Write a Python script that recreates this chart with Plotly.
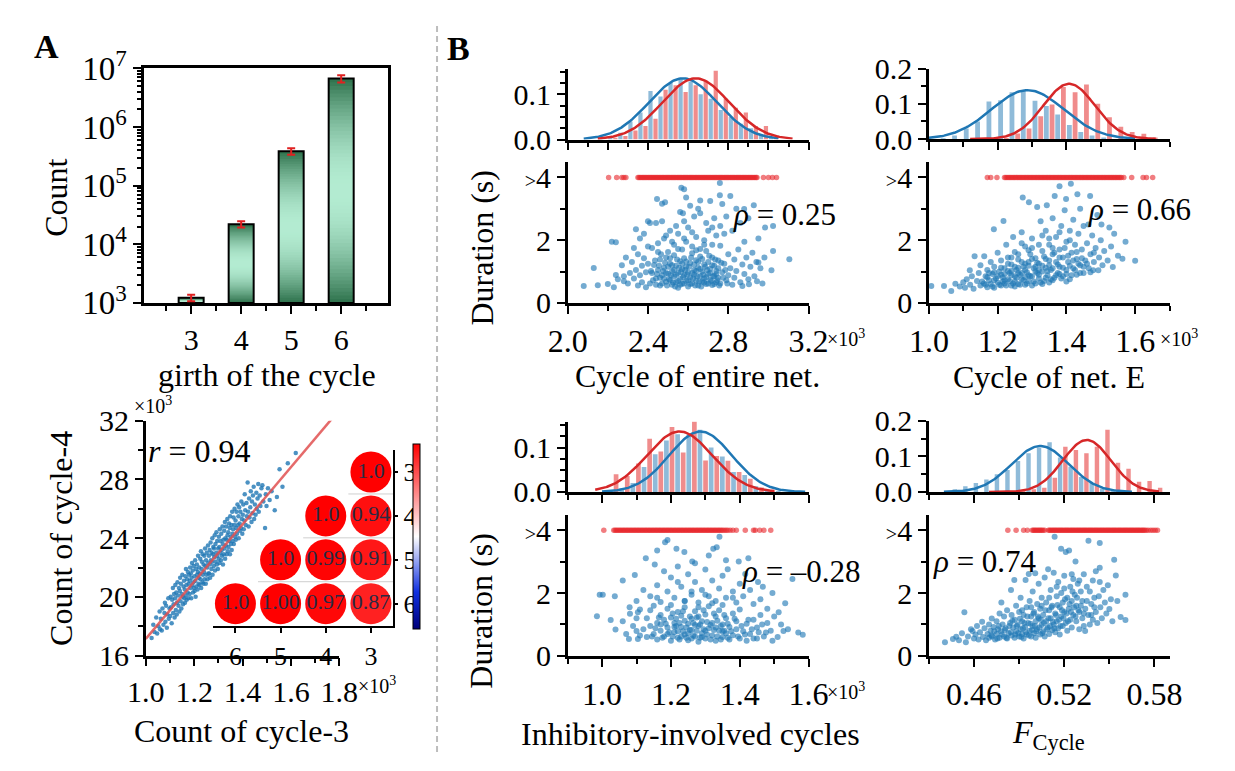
import numpy as np
import plotly.graph_objects as go

W, H = 1235, 771
FONT = "Liberation Serif"

# ======================= DATA =======================
# Panel A (top): number of cycles by girth
girth = [3, 4, 5, 6]
cycle_count = [1.22e3, 2.2e4, 3.85e5, 6.7e6]
cycle_err = [1.5e2, 2.6e3, 5.0e4, 9.5e5]

# Panel A (bottom): count of cycle-3 vs count of cycle-4 (both in units of 10^3)
a_pts = [
    (1.024, 17.2), (1.031, 18.1), (1.036, 17.6),
    (1.043, 18.6), (1.047, 17.5), (1.052, 18.0), (1.057, 19.0), (1.059, 17.8),
    (1.062, 18.5), (1.066, 17.7), (1.069, 19.2), (1.073, 18.1), (1.077, 18.9), (1.079, 19.6),
    (1.081, 18.3), (1.084, 19.4), (1.087, 17.9), (1.089, 18.8), (1.093, 19.9), (1.095, 18.5), (1.098, 19.2),
    (1.101, 18.7), (1.103, 20.0), (1.104, 19.3), (1.107, 18.2), (1.109, 19.8), (1.112, 20.6), (1.113, 18.9),
    (1.115, 19.5), (1.117, 20.2), (1.119, 18.6),
    (1.121, 19.9), (1.122, 20.8), (1.124, 19.1), (1.126, 20.3), (1.128, 18.8), (1.129, 19.6), (1.131, 21.0),
    (1.133, 20.1), (1.135, 19.4), (1.137, 20.6), (1.139, 19.0),
    (1.141, 20.4), (1.142, 21.3), (1.144, 19.7), (1.145, 20.9), (1.147, 19.2), (1.149, 20.2), (1.151, 21.5),
    (1.153, 20.0), (1.154, 19.5), (1.156, 20.7), (1.158, 21.1), (1.159, 19.9),
    (1.161, 20.5), (1.162, 19.6), (1.164, 21.4), (1.165, 20.1), (1.166, 21.9), (1.168, 20.8), (1.169, 19.8),
    (1.171, 21.2), (1.173, 20.3), (1.174, 21.7), (1.176, 19.9), (1.177, 20.9), (1.179, 21.5),
    (1.181, 20.2), (1.182, 21.1), (1.183, 22.0), (1.185, 20.6), (1.186, 21.6), (1.188, 19.9), (1.189, 21.3),
    (1.191, 22.3), (1.192, 20.8), (1.194, 21.8), (1.195, 20.3), (1.197, 21.0), (1.198, 22.1), (1.199, 20.6),
    (1.201, 21.4), (1.202, 20.4), (1.204, 22.5), (1.205, 21.1), (1.206, 20.0), (1.208, 21.9), (1.209, 20.7),
    (1.211, 22.2), (1.212, 21.5), (1.214, 20.5), (1.215, 21.7), (1.216, 22.8), (1.218, 20.9), (1.219, 21.3),
    (1.221, 22.0), (1.222, 20.8), (1.224, 21.6), (1.225, 22.6), (1.226, 21.2), (1.228, 23.1), (1.229, 20.6),
    (1.231, 21.9), (1.232, 22.4), (1.234, 21.0), (1.235, 22.9), (1.236, 21.5), (1.238, 20.9), (1.239, 22.2),
    (1.241, 21.7), (1.242, 22.8), (1.243, 21.2), (1.245, 23.3), (1.246, 22.1), (1.248, 20.9), (1.249, 22.5),
    (1.251, 21.5), (1.252, 23.0), (1.254, 22.0), (1.255, 21.2), (1.257, 23.5), (1.258, 22.3), (1.259, 21.6),
    (1.261, 22.8), (1.262, 21.6), (1.264, 23.2), (1.265, 22.2), (1.266, 21.3), (1.268, 23.7), (1.269, 22.5),
    (1.271, 21.9), (1.272, 23.0), (1.274, 22.4), (1.275, 24.0), (1.276, 21.5), (1.278, 22.9), (1.279, 23.4),
    (1.281, 22.1), (1.282, 23.3), (1.283, 22.7), (1.285, 24.2), (1.286, 21.8), (1.288, 23.6), (1.289, 22.4),
    (1.291, 23.0), (1.292, 24.4), (1.294, 22.2), (1.295, 23.8), (1.296, 22.8), (1.298, 21.9), (1.299, 23.3),
    (1.301, 22.6), (1.302, 24.1), (1.304, 23.4), (1.305, 22.3), (1.306, 24.6), (1.308, 23.0), (1.309, 23.8),
    (1.311, 22.5), (1.312, 24.3), (1.314, 23.2), (1.315, 22.8), (1.317, 24.8), (1.318, 23.6), (1.319, 22.2),
    (1.321, 23.9), (1.322, 22.9), (1.324, 24.5), (1.325, 23.3), (1.327, 25.1), (1.328, 22.6), (1.329, 24.0),
    (1.331, 23.5), (1.332, 24.8), (1.334, 22.9), (1.335, 23.9), (1.337, 25.3), (1.338, 24.2), (1.339, 23.1),
    (1.341, 24.4), (1.342, 23.4), (1.344, 25.0), (1.345, 23.8), (1.347, 24.7), (1.348, 22.9), (1.349, 25.5),
    (1.351, 24.1), (1.352, 23.6), (1.354, 24.9), (1.355, 23.2), (1.357, 25.8), (1.358, 24.3), (1.359, 23.8),
    (1.361, 24.6), (1.363, 25.4), (1.364, 23.6), (1.366, 24.9), (1.367, 26.0), (1.369, 24.1), (1.371, 25.2),
    (1.372, 23.9), (1.374, 24.7), (1.375, 25.8), (1.377, 24.3), (1.379, 26.3),
    (1.381, 24.9), (1.383, 25.5), (1.384, 24.0), (1.386, 26.1), (1.388, 25.0), (1.389, 24.5), (1.391, 25.8),
    (1.393, 24.7), (1.395, 26.5), (1.397, 25.3), (1.399, 24.3),
    (1.401, 25.6), (1.403, 26.3), (1.405, 24.6), (1.407, 25.2), (1.409, 27.0), (1.411, 25.9), (1.413, 24.9),
    (1.416, 26.4), (1.418, 25.5),
    (1.421, 27.8), (1.423, 25.8), (1.425, 24.8), (1.427, 26.7), (1.429, 25.4), (1.432, 26.1), (1.434, 27.2),
    (1.437, 25.1), (1.439, 26.5),
    (1.441, 25.7), (1.443, 26.9), (1.446, 27.5), (1.448, 25.3), (1.451, 26.3), (1.454, 25.6), (1.457, 27.1),
    (1.459, 26.0), (1.462, 26.7), (1.465, 27.7), (1.467, 25.8), (1.471, 26.9), (1.474, 26.2), (1.478, 27.4),
    (1.482, 27.6), (1.486, 26.5), (1.493, 24.7), (1.496, 27.0), (1.499, 26.2),
    (1.505, 27.4), (1.512, 26.6), (1.52, 27.2), (1.533, 25.9), (1.542, 26.8), (1.553, 28.7), (1.565, 27.5),
    (1.587, 29.1), (1.62, 29.8),
]
a_fit_x = [1.0, 1.767]
a_fit_y_at_1 = 17.14
a_fit_slope = 19.5
a_r = "0.94"

# Inset: correlation among cycle counts of different girth
corr_x_labels = ["6", "5", "4", "3"]
corr_y_labels = ["3", "4", "5", "6"]
corr_row = [3, 4, 4, 5, 5, 5, 6, 6, 6, 6]
corr_col = [3, 4, 3, 5, 4, 3, 6, 5, 4, 3]
corr_val = [1.0, 1.0, 0.94, 1.0, 0.99, 0.91, 1.0, 1.00, 0.97, 0.87]
corr_txt = ["1.0", "1.0", "0.94", "1.0", "0.99", "0.91", "1.0", "1.00", "0.97", "0.87"]

# Panel B: duration vs cycle measures. Durations > 4 s are drawn on the ">4" row.
dur_cap = 4

# --- B1: cycle of entire net (x in 10^3) ---
b1_bins = [2.175, 2.225, 2.275, 2.325, 2.375, 2.425, 2.475, 2.525, 2.575, 2.625, 2.675, 2.725, 2.775,
           2.825, 2.875, 2.925, 2.975, 3.025]
b1_hist_blue = [0.003, 0.006, 0.015, 0.040, 0.060, 0.107, 0.095, 0.125, 0.133, 0.128, 0.100, 0.090, 0.065,
                0.050, 0.035, 0.025, 0.010, 0.004]
b1_hist_red = [0.000, 0.004, 0.008, 0.020, 0.030, 0.046, 0.110, 0.120, 0.105, 0.120, 0.130, 0.152, 0.090,
               0.070, 0.060, 0.030, 0.030, 0.005]
b1_bin_w = 0.05
b1_fit_blue = dict(mu=2.574, sd=0.170, peak=0.135, lo=2.08, hi=3.05)
b1_fit_red = dict(mu=2.638, sd=0.167, peak=0.135, lo=2.15, hi=3.12)
b1_blue = [
    (2.08, 0.54), (2.13, 1.11), (2.15, 0.56), (2.20, 0.60), (2.22, 1.95), (2.24, 1.93), (2.23, 0.50),
    (2.24, 0.89), (2.25, 0.75), (2.27, 1.20), (2.28, 0.85), (2.28, 0.69), (2.29, 1.45),
    (2.30, 0.62), (2.31, 0.95), (2.32, 1.30), (2.33, 0.78), (2.33, 1.75), (2.34, 1.05), (2.34, 2.35),
    (2.35, 0.55), (2.35, 1.55), (2.36, 0.88), (2.36, 2.05), (2.37, 1.18), (2.37, 0.66), (2.38, 1.42),
    (2.38, 2.20), (2.39, 0.98), (2.39, 0.50), (2.40, 1.25), (2.40, 1.80), (2.40, 2.60), (2.41, 2.55),
    (2.41, 0.62), (2.42, 0.95), (2.42, 1.75), (2.43, 1.21), (2.44, 0.78), (2.44, 2.55), (2.445, 3.31),
    (2.45, 1.05), (2.45, 1.90), (2.46, 0.55), (2.46, 1.38), (2.47, 0.88), (2.47, 2.60), (2.47, 3.16),
    (2.48, 1.12), (2.48, 2.05), (2.485, 3.21), (2.49, 0.67), (2.49, 1.45), (2.50, 0.93), (2.50, 1.62),
    (2.51, 0.72), (2.51, 1.25), (2.51, 2.30), (2.52, 0.58), (2.52, 1.02), (2.53, 0.84), (2.53, 1.52),
    (2.53, 1.85), (2.54, 0.66), (2.54, 1.18), (2.54, 2.45), (2.55, 0.95), (2.55, 0.48), (2.55, 2.20),
    (2.56, 1.33), (2.56, 0.76), (2.56, 2.90), (2.566, 3.67), (2.57, 1.07), (2.57, 0.61), (2.57, 1.70),
    (2.574, 2.86), (2.58, 0.88), (2.58, 1.42), (2.58, 2.60), (2.58, 3.62), (2.59, 0.70), (2.59, 1.15),
    (2.59, 1.95), (2.59, 3.36), (2.60, 0.52), (2.60, 0.98), (2.60, 2.40), (2.61, 1.27), (2.61, 0.80),
    (2.61, 3.10), (2.62, 0.62), (2.62, 1.58), (2.62, 1.80), (2.63, 1.05), (2.63, 0.90), (2.63, 2.75),
    (2.64, 0.71), (2.64, 1.36), (2.64, 2.10), (2.65, 0.55), (2.65, 1.12), (2.65, 3.00), (2.66, 0.85),
    (2.66, 1.48), (2.66, 1.72), (2.66, 2.86), (2.66, 3.26), (2.67, 0.68), (2.67, 1.00), (2.68, 1.22),
    (2.68, 0.78), (2.68, 2.00), (2.69, 0.60), (2.69, 1.65), (2.69, 2.55), (2.70, 0.92), (2.70, 1.30),
    (2.70, 2.30), (2.71, 0.74), (2.71, 1.08), (2.71, 3.25), (2.72, 0.57), (2.72, 1.45), (2.72, 1.85),
    (2.73, 0.86), (2.73, 1.18), (2.73, 2.70), (2.74, 0.66), (2.74, 1.02), (2.74, 2.15), (2.75, 1.35),
    (2.75, 0.80), (2.758, 3.82), (2.758, 3.43), (2.76, 0.62), (2.76, 2.45), (2.77, 0.98), (2.77, 3.15),
    (2.78, 1.25), (2.78, 2.20), (2.79, 0.72), (2.79, 2.75), (2.80, 1.55), (2.80, 0.88), (2.81, 1.10),
    (2.81, 3.41), (2.82, 0.58), (2.82, 2.30), (2.83, 1.38), (2.83, 0.80), (2.84, 1.02), (2.84, 3.00),
    (2.85, 1.70), (2.86, 0.66), (2.86, 2.55), (2.87, 1.22), (2.87, 0.54), (2.88, 0.92), (2.88, 1.95),
    (2.879, 2.99), (2.89, 1.45), (2.90, 0.75), (2.90, 2.70), (2.903, 0.59), (2.91, 1.15), (2.92, 1.60),
    (2.927, 3.11), (2.93, 0.85), (2.94, 1.30), (2.943, 0.69), (2.95, 2.05), (2.95, 1.29), (2.96, 1.10),
    (2.97, 0.62), (2.98, 1.45), (2.983, 2.40), (3.015, 1.04), (3.023, 1.65), (3.023, 2.45), (3.104, 1.39),
    (2.415, 1.02), (2.425, 0.72), (2.435, 1.35), (2.44, 0.58), (2.445, 0.92), (2.455, 1.18), (2.46, 0.80),
    (2.465, 1.55), (2.47, 0.62), (2.475, 1.02), (2.48, 0.78), (2.485, 1.28), (2.49, 0.95), (2.495, 0.55),
    (2.50, 1.15), (2.505, 0.75), (2.51, 1.42), (2.515, 0.88), (2.52, 1.20), (2.525, 0.65), (2.53, 1.05),
    (2.535, 0.52), (2.54, 0.90), (2.545, 1.38), (2.55, 0.70), (2.555, 1.12), (2.56, 0.58), (2.565, 0.98),
    (2.57, 1.25), (2.575, 0.82), (2.58, 0.62), (2.585, 1.05), (2.59, 1.32), (2.595, 0.90), (2.60, 0.72),
    (2.605, 1.15), (2.61, 0.60), (2.615, 1.45), (2.62, 0.95), (2.625, 0.78), (2.63, 1.22), (2.635, 0.55),
    (2.64, 1.02), (2.645, 0.85), (2.65, 1.30), (2.655, 0.68), (2.66, 1.08), (2.665, 0.52), (2.67, 1.40),
    (2.675, 0.90), (2.68, 0.65), (2.685, 1.15), (2.69, 0.82), (2.695, 1.05), (2.70, 0.62), (2.705, 1.50),
    (2.71, 0.95), (2.715, 0.70), (2.72, 1.20), (2.725, 0.85), (2.73, 0.60), (2.735, 1.38), (2.74, 0.92),
    (2.745, 0.72), (2.75, 1.10), (2.755, 0.55), (2.765, 1.28), (2.775, 0.80), (2.785, 1.05), (2.795, 0.62),
    (2.62, 2.25), (2.55, 1.72), (2.68, 1.85), (2.52, 1.95), (2.72, 2.40), (2.58, 2.05), (2.45, 1.62),
    (2.64, 1.68), (2.76, 1.82), (2.49, 2.15),
]
b1_red_x = [2.204, 2.244, 2.27, 2.28, 2.29, 2.35, 2.356, 2.362, 2.368, 2.374, 2.38, 2.386, 2.392, 2.398,
            2.404, 2.41, 2.416, 2.422, 2.428, 2.434, 2.44, 2.446, 2.452, 2.458, 2.464, 2.47, 2.476, 2.482,
            2.488, 2.494, 2.50, 2.506, 2.512, 2.518, 2.524, 2.53, 2.536, 2.542, 2.548, 2.554, 2.56, 2.566,
            2.572, 2.578, 2.584, 2.59, 2.596, 2.602, 2.608, 2.614, 2.62, 2.626, 2.632, 2.638, 2.644, 2.65,
            2.656, 2.662, 2.668, 2.674, 2.68, 2.686, 2.692, 2.698, 2.704, 2.71, 2.716, 2.722, 2.728, 2.734,
            2.74, 2.746, 2.752, 2.758, 2.764, 2.77, 2.776, 2.782, 2.788, 2.794, 2.80, 2.806, 2.812, 2.818,
            2.824, 2.83, 2.836, 2.842, 2.848, 2.854, 2.86, 2.866, 2.872, 2.878, 2.884, 2.89, 2.896, 2.902,
            2.908, 2.914, 2.92, 2.926, 2.932, 2.938, 2.943, 2.975, 3.00, 3.02, 3.04]
b1_rho = "0.25"

# --- B2: cycle of net. E (x in 10^3) ---
b2_bins = [1.050, 1.083, 1.117, 1.150, 1.183, 1.217, 1.250, 1.283, 1.317, 1.350, 1.383, 1.417, 1.450,
           1.483, 1.517, 1.550, 1.583, 1.617, 1.650]
b2_hist_blue = [0.002, 0.010, 0.030, 0.050, 0.107, 0.110, 0.133, 0.138, 0.109, 0.094, 0.070, 0.040, 0.020,
                0.010, 0.004, 0.000, 0.000, 0.000, 0.000]
b2_hist_red = [0.000, 0.000, 0.000, 0.000, 0.000, 0.003, 0.016, 0.030, 0.065, 0.098, 0.148, 0.133, 0.155,
               0.100, 0.062, 0.035, 0.020, 0.015, 0.004]
b2_bin_w = 0.0333
b2_fit_blue = dict(mu=1.287, sd=0.105, peak=0.139, lo=1.0, hi=1.60)
b2_fit_red = dict(mu=1.408, sd=0.075, peak=0.157, lo=1.12, hi=1.66)
b2_blue = [
    (1.007, 0.54), (1.044, 0.54), (1.065, 0.38), (1.077, 0.61), (1.09, 0.52), (1.10, 0.66), (1.105, 0.48),
    (1.11, 0.75), (1.119, 1.04), (1.12, 0.58), (1.125, 0.85), (1.13, 0.45), (1.133, 1.49), (1.14, 0.70),
    (1.145, 0.95), (1.15, 0.55), (1.15, 1.20), (1.16, 0.62), (1.161, 1.49), (1.165, 0.85), (1.17, 1.05),
    (1.17, 0.50), (1.17, 0.82), (1.175, 0.72), (1.18, 1.30), (1.18, 0.60), (1.185, 0.92), (1.189, 2.35),
    (1.19, 0.48), (1.19, 1.15), (1.19, 0.98), (1.195, 0.78), (1.20, 1.60), (1.20, 0.65), (1.205, 1.00),
    (1.21, 0.55), (1.21, 1.35), (1.21, 0.90), (1.215, 0.82), (1.217, 2.61), (1.22, 1.10), (1.22, 0.62),
    (1.22, 0.72), (1.225, 1.85), (1.23, 0.75), (1.23, 1.45), (1.23, 1.02), (1.235, 0.95), (1.24, 0.55),
    (1.24, 1.22), (1.24, 0.88), (1.245, 2.10), (1.25, 0.85), (1.25, 1.62), (1.25, 0.68), (1.25, 0.52),
    (1.255, 1.05), (1.26, 0.60), (1.26, 1.38), (1.26, 1.12), (1.265, 0.90), (1.27, 2.25), (1.27, 0.75),
    (1.27, 0.95), (1.273, 3.36), (1.275, 1.15), (1.28, 0.58), (1.28, 1.80), (1.28, 1.25), (1.28, 0.82),
    (1.285, 0.98), (1.29, 1.30), (1.29, 0.70), (1.29, 0.88), (1.291, 3.21), (1.295, 1.55), (1.30, 0.85),
    (1.30, 2.05), (1.30, 0.55), (1.305, 1.10), (1.31, 0.62), (1.31, 1.42), (1.31, 1.15), (1.315, 3.06),
    (1.315, 0.95), (1.32, 1.25), (1.32, 0.78), (1.32, 1.05), (1.325, 2.60), (1.33, 1.65), (1.33, 1.00),
    (1.33, 0.60), (1.335, 0.70), (1.34, 1.40), (1.34, 2.30), (1.34, 1.12), (1.343, 3.11), (1.345, 0.88),
    (1.35, 1.20), (1.35, 1.85), (1.35, 0.65), (1.355, 1.05), (1.36, 1.55), (1.36, 2.70), (1.36, 0.72),
    (1.365, 0.80), (1.366, 3.41), (1.37, 1.30), (1.37, 2.10), (1.375, 0.95), (1.38, 3.72), (1.38, 1.70),
    (1.38, 1.15), (1.38, 0.92), (1.385, 2.45), (1.39, 0.85), (1.39, 1.45), (1.395, 2.95), (1.399, 3.31),
    (1.40, 1.05), (1.40, 1.95), (1.40, 0.68), (1.405, 1.30), (1.41, 0.75), (1.41, 2.30), (1.413, 3.80),
    (1.415, 1.60), (1.42, 1.10), (1.42, 2.65), (1.425, 1.85), (1.43, 0.90), (1.43, 1.40), (1.432, 3.46),
    (1.435, 2.20), (1.44, 1.20), (1.44, 3.00), (1.445, 1.70), (1.45, 0.95), (1.45, 2.45), (1.455, 1.35),
    (1.46, 1.90), (1.464, 2.50), (1.465, 1.10), (1.469, 3.41), (1.47, 1.55), (1.475, 2.15), (1.478, 1.04),
    (1.48, 1.30), (1.485, 1.75), (1.49, 2.80), (1.493, 1.04), (1.495, 1.45), (1.50, 2.00), (1.502, 2.50),
    (1.505, 1.20), (1.51, 1.65), (1.52, 1.35), (1.525, 2.40), (1.53, 1.80), (1.535, 1.14), (1.539, 2.20),
    (1.55, 1.50), (1.563, 1.41), (1.572, 1.95), (1.60, 1.34),
    (1.155, 0.68), (1.165, 0.58), (1.175, 0.95), (1.185, 0.52), (1.19, 0.72), (1.20, 0.85), (1.205, 0.58),
    (1.21, 1.12), (1.215, 0.68), (1.22, 0.92), (1.225, 0.55), (1.23, 1.25), (1.235, 0.70), (1.24, 1.02),
    (1.245, 0.62), (1.25, 1.15), (1.255, 0.80), (1.26, 0.95), (1.265, 0.58), (1.27, 1.30), (1.275, 0.72),
    (1.28, 1.05), (1.285, 0.62), (1.29, 1.18), (1.295, 0.85), (1.30, 1.40), (1.305, 0.68), (1.31, 1.00),
    (1.315, 1.28), (1.32, 0.90), (1.325, 0.65), (1.33, 1.18), (1.335, 1.48), (1.34, 0.80), (1.345, 1.02),
    (1.35, 1.35), (1.355, 0.75), (1.36, 1.10), (1.365, 1.60), (1.37, 0.88), (1.375, 1.22), (1.38, 1.45),
    (1.385, 0.78), (1.39, 1.12), (1.395, 1.75), (1.40, 0.92), (1.405, 1.50), (1.41, 1.18), (1.415, 0.88),
    (1.42, 1.35), (1.425, 1.05), (1.43, 1.62), (1.435, 1.25), (1.44, 0.95), (1.445, 1.42), (1.45, 1.15),
    (1.46, 1.25), (1.47, 0.98), (1.48, 1.60), (1.26, 1.55), (1.29, 1.68), (1.32, 1.85), (1.24, 1.45),
    (1.35, 2.05), (1.38, 2.25), (1.41, 2.00), (1.30, 1.75), (1.27, 1.90), (1.36, 1.75), (1.33, 2.15),
]
b2_red_x = [1.17, 1.18, 1.198, 1.22, 1.224, 1.228, 1.232, 1.236, 1.24, 1.244, 1.248, 1.252, 1.256, 1.26,
            1.264, 1.268, 1.272, 1.276, 1.28, 1.284, 1.288, 1.292, 1.296, 1.30, 1.304, 1.308, 1.312, 1.316,
            1.32, 1.324, 1.328, 1.332, 1.336, 1.34, 1.344, 1.348, 1.352, 1.356, 1.36, 1.364, 1.368, 1.372,
            1.376, 1.38, 1.384, 1.388, 1.392, 1.396, 1.40, 1.404, 1.408, 1.412, 1.416, 1.42, 1.424, 1.428,
            1.432, 1.436, 1.44, 1.444, 1.448, 1.452, 1.456, 1.46, 1.464, 1.468, 1.472, 1.476, 1.48, 1.484,
            1.488, 1.492, 1.496, 1.50, 1.504, 1.508, 1.512, 1.516, 1.52, 1.524, 1.528, 1.532, 1.536, 1.54,
            1.544, 1.548, 1.552, 1.556, 1.56, 1.567, 1.59, 1.623, 1.633, 1.651]
b2_rho = "0.66"

# --- B3: inhibitory-involved cycles (x in 10^3) ---
b3_bins = [1.000, 1.0325, 1.065, 1.0975, 1.130, 1.1625, 1.195, 1.2275, 1.260, 1.2925, 1.325, 1.3575,
           1.390, 1.4225, 1.455, 1.4875, 1.520]
b3_hist_blue = [0.000, 0.002, 0.008, 0.020, 0.056, 0.085, 0.116, 0.130, 0.128, 0.140, 0.100, 0.080, 0.045,
                0.038, 0.013, 0.005, 0.002]
b3_hist_red = [0.002, 0.040, 0.036, 0.064, 0.120, 0.091, 0.146, 0.089, 0.159, 0.071, 0.081, 0.070, 0.045,
               0.030, 0.010, 0.004, 0.000]
b3_bin_w = 0.0325
b3_fit_blue = dict(mu=1.286, sd=0.091, peak=0.136, lo=1.0, hi=1.59)
b3_fit_red = dict(mu=1.225, sd=0.095, peak=0.136, lo=0.98, hi=1.50)
b3_blue = [
    (0.985, 1.26), (0.993, 1.95), (1.002, 1.95), (1.025, 1.14), (1.037, 1.90), (1.039, 0.84), (1.06, 2.40),
    (1.078, 0.54), (1.095, 2.58), (1.127, 3.11), (1.153, 2.91), (1.16, 3.36), (1.183, 3.62), (1.19, 3.69),
    (1.216, 3.41), (1.239, 3.31), (1.262, 3.01), (1.323, 3.41), (1.333, 3.46), (1.341, 3.80), (1.365, 2.76),
    (1.397, 3.01), (1.425, 3.11), (1.416, 2.61), (1.453, 2.35), (1.467, 2.20), (1.495, 2.00), (1.553, 2.45),
    (1.532, 1.68), (1.513, 1.39), (1.527, 0.79), (1.57, 0.74), (1.583, 0.67), (1.495, 0.48), (1.476, 0.74),
    (1.081, 1.34), (1.104, 1.39), (1.10, 0.79), (1.104, 0.54),
    (1.12, 0.85), (1.13, 1.20), (1.13, 0.60), (1.14, 1.45), (1.14, 0.95), (1.15, 0.70), (1.15, 1.60),
    (1.16, 1.05), (1.16, 0.52), (1.17, 1.30), (1.17, 0.80), (1.18, 0.62), (1.18, 1.15), (1.19, 1.50),
    (1.19, 0.90), (1.20, 0.48), (1.20, 1.22), (1.21, 0.75), (1.21, 1.05), (1.22, 1.40), (1.22, 0.58),
    (1.23, 0.92), (1.23, 1.28), (1.24, 0.68), (1.24, 1.55), (1.25, 1.02), (1.25, 0.50), (1.26, 0.82),
    (1.26, 1.18), (1.27, 0.62), (1.27, 1.42), (1.28, 0.95), (1.28, 0.45), (1.29, 1.10), (1.29, 0.72),
    (1.30, 1.32), (1.30, 0.55), (1.31, 0.88), (1.31, 1.58), (1.32, 0.65), (1.32, 1.05), (1.33, 0.48),
    (1.33, 1.25), (1.34, 0.80), (1.34, 1.45), (1.35, 0.60), (1.35, 1.00), (1.36, 0.72), (1.36, 1.20),
    (1.37, 0.52), (1.37, 0.92), (1.38, 1.35), (1.38, 0.66), (1.39, 0.85), (1.39, 1.10), (1.40, 0.55),
    (1.40, 1.48), (1.41, 0.78), (1.42, 1.02), (1.42, 0.48),
    (1.22, 0.78), (1.24, 1.12), (1.26, 0.55), (1.28, 1.25), (1.30, 0.80), (1.25, 0.72), (1.27, 0.98),
    (1.29, 0.60), (1.21, 0.92), (1.23, 0.62), (1.33, 0.90), (1.35, 0.78), (1.19, 0.70), (1.17, 1.00),
    (1.10, 1.75), (1.12, 2.10), (1.14, 1.90), (1.16, 2.25), (1.17, 1.72), (1.19, 2.05), (1.20, 2.50),
    (1.21, 1.85), (1.23, 2.20), (1.24, 1.75), (1.25, 2.60), (1.26, 1.95), (1.27, 2.35), (1.28, 1.70),
    (1.29, 2.10), (1.30, 2.75), (1.31, 1.90), (1.32, 2.40), (1.33, 1.75), (1.34, 2.15), (1.35, 2.55),
    (1.36, 1.85), (1.38, 2.05), (1.39, 1.70), (1.40, 2.30), (1.41, 1.90), (1.43, 2.10), (1.44, 1.65),
    (1.46, 1.80), (1.22, 2.85), (1.27, 2.95), (1.18, 2.70), (1.31, 3.20), (1.36, 3.05),
    (1.06, 1.10), (1.07, 0.70), (1.08, 1.55), (1.09, 0.95), (1.10, 1.20), (1.11, 0.65), (1.11, 1.48),
    (1.43, 0.70), (1.44, 1.15), (1.45, 0.55), (1.45, 0.90), (1.46, 1.30), (1.47, 0.62), (1.48, 1.05),
    (1.49, 0.80), (1.50, 1.25), (1.51, 0.60), (1.52, 1.00), (1.54, 0.85), (1.48, 1.50),
    (1.145, 0.62), (1.155, 0.88), (1.165, 1.22), (1.175, 0.58), (1.185, 1.02), (1.195, 0.75), (1.205, 1.35),
    (1.205, 0.62), (1.215, 0.95), (1.215, 1.18), (1.225, 0.52), (1.225, 1.05), (1.235, 0.78), (1.235, 1.42),
    (1.245, 0.90), (1.245, 0.58), (1.255, 1.25), (1.255, 0.82), (1.265, 0.65), (1.265, 1.05), (1.275, 0.80),
    (1.275, 1.22), (1.285, 0.58), (1.285, 1.00), (1.295, 0.85), (1.295, 1.45), (1.305, 0.68), (1.305, 1.08),
    (1.315, 0.52), (1.315, 0.98), (1.325, 0.82), (1.325, 1.35), (1.335, 0.62), (1.335, 1.12), (1.345, 0.95),
    (1.345, 0.52), (1.355, 0.80), (1.355, 1.30), (1.365, 0.58), (1.365, 1.02), (1.375, 0.78), (1.385, 1.18),
    (1.395, 0.62), (1.405, 0.95), (1.415, 0.68), (1.425, 1.15), (1.435, 0.85), (1.44, 0.55), (1.455, 0.75),
    (1.465, 1.00), (1.24, 1.75), (1.28, 1.55), (1.32, 1.68), (1.20, 1.62), (1.26, 2.05), (1.30, 1.95),
    (1.35, 1.62), (1.22, 2.35), (1.38, 1.85), (1.16, 1.85),
]
b3_red_x = [1.005, 1.034, 1.038, 1.042, 1.046, 1.05, 1.054, 1.058, 1.062, 1.066, 1.07, 1.074, 1.078, 1.082,
            1.086, 1.09, 1.094, 1.098, 1.102, 1.106, 1.11, 1.114, 1.118, 1.122, 1.126, 1.13, 1.134, 1.138,
            1.142, 1.146, 1.15, 1.154, 1.158, 1.162, 1.166, 1.17, 1.174, 1.178, 1.182, 1.186, 1.19, 1.194,
            1.198, 1.202, 1.206, 1.21, 1.214, 1.218, 1.222, 1.226, 1.23, 1.234, 1.238, 1.242, 1.246, 1.25,
            1.254, 1.258, 1.262, 1.266, 1.27, 1.274, 1.278, 1.282, 1.286, 1.29, 1.294, 1.298, 1.302, 1.306,
            1.31, 1.314, 1.318, 1.322, 1.326, 1.33, 1.334, 1.338, 1.342, 1.346, 1.35, 1.355, 1.36, 1.365,
            1.372, 1.38, 1.39, 1.416, 1.44, 1.445, 1.458, 1.47, 1.49]
b3_rho = "\u20130.28"

# --- B4: F_Cycle ---
b4_bins = [0.449, 0.456, 0.463, 0.470, 0.477, 0.484, 0.491, 0.498, 0.505, 0.512, 0.519, 0.526, 0.533,
           0.540, 0.547, 0.554, 0.561, 0.568, 0.575, 0.582]
b4_hist_blue = [0.008, 0.016, 0.025, 0.035, 0.050, 0.062, 0.087, 0.109, 0.124, 0.140, 0.097, 0.071, 0.042,
                0.025, 0.010, 0.004, 0.000, 0.000, 0.000, 0.000]
b4_hist_red = [0.000, 0.000, 0.000, 0.000, 0.000, 0.002, 0.005, 0.008, 0.012, 0.040, 0.127, 0.118, 0.109,
               0.127, 0.175, 0.082, 0.065, 0.029, 0.031, 0.012]
b4_bin_w = 0.007
b4_fit_blue = dict(mu=0.504, sd=0.019, peak=0.129, lo=0.44, hi=0.565)
b4_fit_red = dict(mu=0.535, sd=0.016, peak=0.146, lo=0.47, hi=0.583)
b4_blue = [
    (0.4407, 0.43), (0.446, 0.54), (0.4482, 0.61), (0.450, 0.50), (0.452, 0.72), (0.4536, 1.39),
    (0.4546, 0.43), (0.456, 0.62), (0.458, 0.85), (0.459, 0.79), (0.460, 0.55), (0.461, 0.68),
    (0.462, 0.95), (0.463, 0.52), (0.464, 0.75), (0.4654, 1.09), (0.466, 0.60), (0.467, 0.88),
    (0.468, 0.50), (0.469, 0.70), (0.470, 1.00), (0.470, 0.58),
    (0.471, 0.80), (0.4718, 1.19), (0.472, 0.62), (0.473, 0.92), (0.474, 0.52), (0.475, 1.10),
    (0.475, 0.70), (0.476, 0.85), (0.477, 1.35), (0.477, 0.58), (0.4782, 1.70), (0.478, 0.78),
    (0.479, 1.00), (0.480, 0.62), (0.480, 1.25), (0.481, 0.88), (0.482, 0.55), (0.482, 1.45),
    (0.483, 0.72), (0.484, 1.05), (0.4846, 2.10), (0.485, 0.65), (0.485, 1.30), (0.486, 0.90),
    (0.4868, 2.42), (0.487, 0.58), (0.487, 1.15), (0.488, 1.60), (0.488, 0.78), (0.489, 1.00),
    (0.490, 0.62), (0.490, 1.40), (0.491, 0.85), (0.491, 1.85), (0.492, 0.70), (0.492, 1.10),
    (0.493, 0.55), (0.493, 1.30), (0.4943, 2.42), (0.494, 0.92), (0.495, 1.55), (0.495, 0.68),
    (0.4964, 2.61), (0.496, 1.05), (0.497, 0.80), (0.497, 1.75), (0.498, 0.62), (0.498, 1.25),
    (0.499, 0.95), (0.499, 2.05),
    (0.500, 0.72), (0.500, 1.40), (0.5007, 2.63), (0.501, 1.10), (0.501, 0.58), (0.502, 1.65),
    (0.502, 0.85), (0.503, 1.20), (0.503, 2.30), (0.504, 0.68), (0.504, 1.50), (0.505, 0.98),
    (0.505, 1.85), (0.506, 0.78), (0.506, 1.30), (0.507, 2.50), (0.507, 0.62), (0.508, 1.10),
    (0.508, 1.70), (0.5093, 2.76), (0.509, 0.90), (0.510, 1.45), (0.510, 0.70), (0.511, 2.10),
    (0.511, 1.20), (0.512, 0.82), (0.512, 1.60), (0.513, 1.00), (0.513, 2.65), (0.5136, 3.80),
    (0.514, 1.35), (0.514, 0.75), (0.515, 1.90), (0.515, 1.10), (0.516, 0.88), (0.516, 2.35),
    (0.517, 1.55), (0.517, 0.68), (0.5179, 3.41), (0.518, 1.25), (0.518, 2.00), (0.519, 0.95),
    (0.519, 1.70), (0.520, 1.40), (0.520, 2.55), (0.521, 3.31), (0.521, 1.05), (0.522, 1.85),
    (0.522, 0.80), (0.5232, 3.36), (0.523, 1.50), (0.524, 2.20), (0.524, 1.15), (0.525, 1.75),
    (0.525, 0.90), (0.526, 2.45), (0.526, 1.30), (0.527, 1.95), (0.5275, 3.01), (0.528, 1.10),
    (0.528, 1.60), (0.529, 2.30), (0.530, 0.85), (0.530, 1.40),
    (0.531, 2.05), (0.532, 1.20), (0.532, 1.75), (0.533, 2.60), (0.533, 0.95), (0.5339, 0.79),
    (0.534, 1.50), (0.535, 2.20), (0.5361, 3.67), (0.536, 1.30), (0.537, 2.05), (0.537, 1.00),
    (0.538, 1.65), (0.539, 2.40), (0.539, 1.15), (0.540, 1.85), (0.541, 1.40), (0.541, 2.70),
    (0.542, 1.05), (0.543, 1.90), (0.5436, 3.60), (0.5436, 2.81), (0.5436, 2.35), (0.544, 1.55),
    (0.545, 1.20), (0.546, 2.10), (0.547, 1.70), (0.548, 1.35), (0.549, 2.25), (0.550, 1.49),
    (0.551, 1.80), (0.552, 1.10), (0.5532, 3.06), (0.5543, 2.56), (0.5553, 1.75), (0.5575, 1.24),
    (0.5607, 1.95), (0.5607, 1.14),
    (0.4715, 0.65), (0.4735, 0.78), (0.4755, 0.55), (0.4765, 0.95), (0.4785, 0.68), (0.4805, 0.82),
    (0.4815, 0.58), (0.4835, 0.95), (0.4845, 0.75), (0.4855, 1.12), (0.4875, 0.68), (0.4885, 0.95),
    (0.4895, 0.72), (0.4905, 1.18), (0.4915, 0.60), (0.4925, 0.88), (0.4935, 1.05), (0.4945, 0.75),
    (0.4955, 1.25), (0.4965, 0.65), (0.4975, 1.02), (0.4985, 0.82), (0.4995, 1.35), (0.5005, 0.95),
    (0.5015, 0.78), (0.5025, 1.25), (0.5035, 0.90), (0.5045, 1.15), (0.5055, 0.72), (0.5065, 1.05),
    (0.5075, 1.45), (0.5085, 0.85), (0.5095, 1.20), (0.5105, 0.95), (0.5115, 1.55), (0.5125, 1.08),
    (0.5135, 0.88), (0.5145, 1.30), (0.5155, 1.62), (0.5165, 1.15), (0.5175, 0.95), (0.5185, 1.45),
    (0.5195, 1.20), (0.5205, 1.80), (0.5215, 1.35), (0.5225, 1.10), (0.5235, 1.65), (0.5245, 1.40),
    (0.5255, 2.05), (0.5265, 1.55), (0.5275, 1.25), (0.5285, 1.85), (0.5295, 1.45), (0.531, 1.60),
    (0.533, 1.35), (0.535, 1.75), (0.538, 1.30), (0.540, 1.55), (0.505, 1.60), (0.510, 1.85),
    (0.515, 2.20), (0.520, 2.15), (0.525, 2.60), (0.530, 2.40), (0.498, 1.55), (0.492, 1.45),
]
b4_red_x = [0.4825, 0.488, 0.493, 0.4955, 0.4987, 0.4995, 0.5003, 0.5011, 0.5019, 0.5027, 0.5035, 0.5043,
            0.5051, 0.5059, 0.507, 0.5095, 0.5103, 0.5111, 0.5119, 0.5127, 0.5135, 0.5143, 0.5151, 0.5159,
            0.5167, 0.5175, 0.5183, 0.5191, 0.5199, 0.5207, 0.5215, 0.5223, 0.5231, 0.5239, 0.5247, 0.5255,
            0.5263, 0.5271, 0.5279, 0.5287, 0.5295, 0.5303, 0.5311, 0.5319, 0.5327, 0.5335, 0.5343, 0.5351,
            0.5359, 0.5367, 0.5375, 0.5383, 0.5391, 0.5399, 0.5407, 0.5415, 0.5423, 0.5431, 0.5439, 0.5447,
            0.5455, 0.5463, 0.5471, 0.5479, 0.5487, 0.5495, 0.5503, 0.5511, 0.5519, 0.5527, 0.5535, 0.5543,
            0.5551, 0.5559, 0.5567, 0.5575, 0.5583, 0.5591, 0.5599, 0.5607, 0.5615, 0.5623, 0.5631, 0.5639,
            0.5647, 0.5655, 0.5663, 0.5671, 0.5679, 0.5687, 0.5695, 0.5703, 0.5711, 0.5719, 0.5727, 0.5735,
            0.5745, 0.5758, 0.5775, 0.579, 0.5805, 0.582]
b4_rho = "0.74"

# ======================= HELPERS =======================
def px_x(a, b):
    return [a / W, b / W]


def px_y(top, bottom):
    return [1 - bottom / H, 1 - top / H]


def base_axis(**kw):
    d = dict(showline=True, linecolor="black", linewidth=2.5, ticks="outside", tickwidth=2, ticklen=8,
             tickcolor="black", showgrid=False, zeroline=False, fixedrange=True,
             tickfont=dict(family=FONT, size=30, color="black"))
    d.update(kw)
    return d


def minor(vals, ln=5):
    return dict(tickmode="array", tickvals=vals, ticks="outside", ticklen=ln, tickwidth=2,
                tickcolor="black", showgrid=False)


def note(text, x, y, size=32, angle=0, xanchor="center", yanchor="middle"):
    return dict(text=text, x=x / W, y=1 - y / H, xref="paper", yref="paper", showarrow=False,
                font=dict(family=FONT, size=size, color="black"), textangle=angle,
                xanchor=xanchor, yanchor=yanchor)


BLUE = "#1f77b4"
RED = "#d62728"
traces = []
layout = dict(width=W, height=H, margin=dict(l=0, r=0, t=0, b=0), autosize=False, showlegend=False,
              paper_bgcolor="white", plot_bgcolor="rgba(0,0,0,0)", barmode="overlay",
              font=dict(family=FONT, size=30, color="black"))

# ======================= PANEL A top: gradient bars =======================
N_SEG = 60
dark = np.array([44, 112, 74])
light = np.array([180, 236, 210])
log_top = np.log10(cycle_count)
for k in range(N_SEG):
    lo = 10 ** (3 + (k / N_SEG) * (log_top - 3))
    hi = 10 ** (3 + (min(k + 1.6, N_SEG) / N_SEG) * (log_top - 3))
    t = (k + 0.5) / N_SEG
    f = np.sin(np.pi * t) ** 0.9
    c = (light * f + dark * (1 - f)).astype(int)
    col = f"rgb({c[0]},{c[1]},{c[2]})"
    traces.append(go.Bar(x=girth, y=hi - lo, base=lo, width=0.5, xaxis="x", yaxis="y",
                         marker=dict(color=col, line=dict(width=0)), hoverinfo="skip"))
traces.append(go.Bar(x=girth, y=np.array(cycle_count) - 1e3, base=[1e3] * 4, width=0.5, xaxis="x", yaxis="y",
                     marker=dict(color="rgba(0,0,0,0)", line=dict(color="black", width=2))))
traces.append(go.Scatter(x=girth, y=cycle_count, mode="markers", marker=dict(opacity=0, size=2),
                         xaxis="x", yaxis="y",
                         error_y=dict(type="data", array=cycle_err, color="#e02020", thickness=2, width=4)))
log_minor = [m * 10 ** e for e in range(3, 7) for m in range(2, 10)]
layout["xaxis"] = base_axis(domain=px_x(128.3, 380), range=[2.06, 6.93], anchor="y", mirror=True,
                            tickmode="array", tickvals=girth, ticktext=[str(g) for g in girth],
                            minor=minor([2.5, 3.5, 4.5, 5.5, 6.5]))
layout["yaxis"] = base_axis(domain=px_y(48, 296), type="log", range=[3, 7], anchor="x", mirror=True,
                            tickmode="array", tickvals=[1e3, 1e4, 1e5, 1e6, 1e7],
                            ticktext=[f"10<sup>{e}</sup>" for e in range(3, 8)],
                            tickfont=dict(family=FONT, size=33, color="black"),
                            minor=minor(log_minor, 4))

# ======================= PANEL A bottom: scatter + fit =======================
ax_, ay_ = zip(*a_pts)
traces.append(go.Scatter(x=ax_, y=ay_, mode="markers", xaxis="x2", yaxis="y2",
                         marker=dict(size=4.5, color="rgba(31,119,180,0.8)", line=dict(width=0))))
fx = np.array(a_fit_x)
traces.append(go.Scatter(x=fx, y=a_fit_y_at_1 + a_fit_slope * (fx - 1.0), mode="lines", xaxis="x2",
                         yaxis="y2", line=dict(color="rgba(225,80,80,0.85)", width=2.5)))
layout["xaxis2"] = base_axis(domain=px_x(130, 330), range=[1.0, 1.8], anchor="y2", tickmode="array",
                             tickvals=[1.0, 1.2, 1.4, 1.6, 1.8], ticktext=["1.0", "1.2", "1.4", "1.6", "1.8"],
                             minor=minor([1.1, 1.3, 1.5, 1.7]))
layout["yaxis2"] = base_axis(domain=px_y(420.7, 669), range=[16, 32], anchor="x2", tickmode="array",
                             tickvals=[16, 20, 24, 28, 32], ticktext=["16", "20", "24", "28", "32"],
                             minor=minor([18, 22, 26, 30]))

# ======================= Inset correlation matrix =======================
cx = [corr_x_labels.index(str(c)) for c in corr_col]
cy = [corr_y_labels.index(str(r)) for r in corr_row]
bwr = [[0.0, "#00007a"], [0.2, "#1030e0"], [0.5, "#ffffff"], [1.0, "#ff0000"]]
traces.append(go.Scatter(x=cx, y=cy, mode="markers+text", text=corr_txt, textposition="middle center",
                         xaxis="x3", yaxis="y3",
                         textfont=dict(family=FONT, size=22, color="#2a2a44"),
                         marker=dict(size=41, color=corr_val, cmin=-1, cmax=1, colorscale=bwr,
                                     line=dict(width=0), showscale=True,
                                     colorbar=dict(x=406 / W, xanchor="left", y=1 - 543.5 / H,
                                                   yanchor="middle", len=185, lenmode="pixels",
                                                   thickness=7, outlinecolor="black", outlinewidth=1,
                                                   showticklabels=False, ticks="", xpad=0, ypad=0))))
layout["xaxis3"] = base_axis(domain=px_x(199.3, 386), range=[-0.5, 3.5], anchor="y3", linewidth=1.5,
                             ticklen=6, tickwidth=1.5, tickmode="array", tickvals=[0, 1, 2, 3],
                             ticktext=corr_x_labels, tickfont=dict(family=FONT, size=26, color="black"))
layout["yaxis3"] = base_axis(domain=px_y(451.7, 637.3), range=[3.5, -0.5], anchor="x3", side="right",
                             linewidth=1.5, ticklen=3, tickwidth=1.5, tickmode="array",
                             tickvals=[0, 1, 2, 3], ticktext=corr_y_labels,
                             tickfont=dict(family=FONT, size=26, color="black"))

shapes = []
for row_sep, col_start in [(0.5, 2.5), (1.5, 1.5), (2.5, 0.5)]:
    shapes.append(dict(type="line", xref="x3", yref="y3", x0=col_start, x1=3.5, y0=row_sep, y1=row_sep,
                       line=dict(color="#cfcfcf", width=1), layer="below"))
shapes.append(dict(type="line", xref="paper", yref="paper", x0=431 / W, x1=431 / W, y0=0, y1=1,
                   line=dict(color="#bdbdbd", width=2, dash="6px,4px")))

# ======================= PANEL B =======================
b_data = [
    (b1_bins, b1_hist_blue, b1_hist_red, b1_bin_w, b1_fit_blue, b1_fit_red, b1_blue, b1_red_x),
    (b2_bins, b2_hist_blue, b2_hist_red, b2_bin_w, b2_fit_blue, b2_fit_red, b2_blue, b2_red_x),
    (b3_bins, b3_hist_blue, b3_hist_red, b3_bin_w, b3_fit_blue, b3_fit_red, b3_blue, b3_red_x),
    (b4_bins, b4_hist_blue, b4_hist_red, b4_bin_w, b4_fit_blue, b4_fit_red, b4_blue, b4_red_x),
]
b_geom = [
    dict(x=(566, 815), hist=(49, 123.3), scat=(146.7, 296), xr=[2.0, 3.2], hy=[0, 0.155],
         hmaj=[0, 0.1], hmin=[0.025, 0.05, 0.075, 0.125, 0.15],
         smaj=[2.0, 2.4, 2.8, 3.2], smin=[2.2, 2.6, 3.0],
         hxmaj=[2.0, 2.2, 2.4, 2.6, 2.8, 3.0, 3.2], hxmin=[2.1, 2.3, 2.5, 2.7, 2.9, 3.1], fmt="{:.1f}"),
    dict(x=(939.3, 1188), hist=(48.3, 122.7), scat=(146.7, 296), xr=[1.0, 1.7], hy=[0, 0.2],
         hmaj=[0, 0.1, 0.2], hmin=[0.05, 0.15],
         smaj=[1.0, 1.2, 1.4, 1.6], smin=[1.1, 1.3, 1.5, 1.7],
         hxmaj=[1.0, 1.2, 1.4, 1.6], hxmin=[1.1, 1.3, 1.5, 1.7], fmt="{:.1f}"),
    dict(x=(566, 815), hist=(421.7, 496), scat=(520, 669.3), xr=[0.9, 1.6], hy=[0, 0.158],
         hmaj=[0, 0.1], hmin=[0.025, 0.05, 0.075, 0.125, 0.15],
         smaj=[1.0, 1.2, 1.4, 1.6], smin=[0.9, 1.1, 1.3, 1.5],
         hxmaj=[1.0, 1.2, 1.4, 1.6], hxmin=[0.9, 1.1, 1.3, 1.5], fmt="{:.1f}"),
    dict(x=(939.3, 1188), hist=(420.7, 496), scat=(520, 669.3), xr=[0.43, 0.59], hy=[0, 0.2],
         hmaj=[0, 0.1, 0.2], hmin=[0.05, 0.15],
         smaj=[0.46, 0.52, 0.58], smin=[0.43, 0.49, 0.55],
         hxmaj=[0.46, 0.52, 0.58], hxmin=[0.43, 0.49, 0.55], fmt="{:.2f}"),
]

for i, (data, g) in enumerate(zip(b_data, b_geom)):
    bins, hb, hr, bw, fb, fr, pts, red_x = data
    hn, sn = 4 + 2 * i, 5 + 2 * i
    hx, hy, sx, sy = f"x{hn}", f"y{hn}", f"x{sn}", f"y{sn}"
    traces.append(go.Bar(x=bins, y=hb, width=bw * 0.42, offset=-bw * 0.46, xaxis=hx, yaxis=hy,
                         marker=dict(color="rgba(31,119,180,0.5)", line=dict(width=0))))
    traces.append(go.Bar(x=bins, y=hr, width=bw * 0.42, offset=bw * 0.04, xaxis=hx, yaxis=hy,
                         marker=dict(color="rgba(228,45,45,0.55)", line=dict(width=0))))
    for fit, col in [(fb, BLUE), (fr, RED)]:
        xs = np.linspace(fit["lo"], fit["hi"], 150)
        ys = fit["peak"] * np.exp(-0.5 * ((xs - fit["mu"]) / fit["sd"]) ** 2)
        traces.append(go.Scatter(x=xs, y=ys, mode="lines", xaxis=hx, yaxis=hy,
                                 line=dict(color=col, width=2.5)))
    px_, py_ = zip(*pts)
    traces.append(go.Scatter(x=px_, y=py_, mode="markers", xaxis=sx, yaxis=sy,
                             marker=dict(size=6, color="rgba(31,119,180,0.62)", line=dict(width=0))))
    traces.append(go.Scatter(x=red_x, y=[dur_cap] * len(red_x), mode="markers", xaxis=sx, yaxis=sy,
                             marker=dict(size=5.5, color="rgba(232,38,43,0.6)", line=dict(width=0))))
    fmt = g["fmt"]
    layout[f"xaxis{hn}"] = base_axis(domain=px_x(*g["x"]), range=g["xr"], anchor=hy, showticklabels=False,
                                     tickmode="array", tickvals=g["hxmaj"], minor=minor(g["hxmin"]))
    layout[f"yaxis{hn}"] = base_axis(domain=px_y(*g["hist"]), range=g["hy"], anchor=hx, tickmode="array",
                                     tickvals=g["hmaj"], ticktext=[f"{v:.1f}" for v in g["hmaj"]],
                                     minor=minor(g["hmin"]))
    layout[f"xaxis{sn}"] = base_axis(domain=px_x(*g["x"]), range=g["xr"], anchor=sy, tickmode="array",
                                     tickvals=g["smaj"], ticktext=[fmt.format(v) for v in g["smaj"]],
                                     tickfont=dict(family=FONT, size=32, color="black"),
                                     minor=minor(g["smin"]))
    layout[f"yaxis{sn}"] = base_axis(domain=px_y(*g["scat"]), range=[0, 4.5], anchor=sx, tickmode="array",
                                     tickvals=[0, 2, 4],
                                     ticktext=["0", "2", "<span style='font-size:20px'>&gt;</span>4"],
                                     minor=minor([1, 3]))

# ======================= ANNOTATIONS =======================
sup3 = "\u00d710<sup>3</sup>"
annotations = [
    note("<b>A</b>", 27, 25, size=34),
    note("<b>B</b>", 453, 27, size=34),
    note("Count", 37, 185, angle=-90),
    note("girth of the cycle", 255, 372),
    note("Count of cycle-4", 43, 545, angle=-90),
    note("Count of cycle-3", 229, 749),
    note(sup3, 137, 404, size=20),
    note(sup3, 347, 700, size=20, xanchor="left"),
    note(f"<i>r</i> = {a_r}", 186, 453, size=32),
    note("Duration (s)", 477, 238, angle=-90),
    note("Duration (s)", 477, 622, angle=-90),
    note("Cycle of entire net.", 700, 373),
    note("Cycle of net. E", 1063, 374),
    note("Inhibitory-involved cycles", 693, 752),
    note("<i>F</i><sub>Cycle</sub>", 1063, 752),
    note(sup3, 832, 333, size=20, xanchor="left"),
    note(sup3, 1176, 333, size=20, xanchor="left"),
    note(sup3, 832, 706, size=20, xanchor="left"),
    note(f"<i>\u03c1</i> = {b1_rho}", 790, 203, size=31),
    note(f"<i>\u03c1</i> = {b2_rho}", 1157, 197, size=31),
    note(f"<i>\u03c1</i> = {b3_rho}", 808, 580, size=31),
    note(f"<i>\u03c1</i> = {b4_rho}", 997, 570, size=31),
]
layout["annotations"] = annotations
layout["shapes"] = shapes

fig = go.Figure(data=traces, layout=layout)
fig.write_html("out.html")
